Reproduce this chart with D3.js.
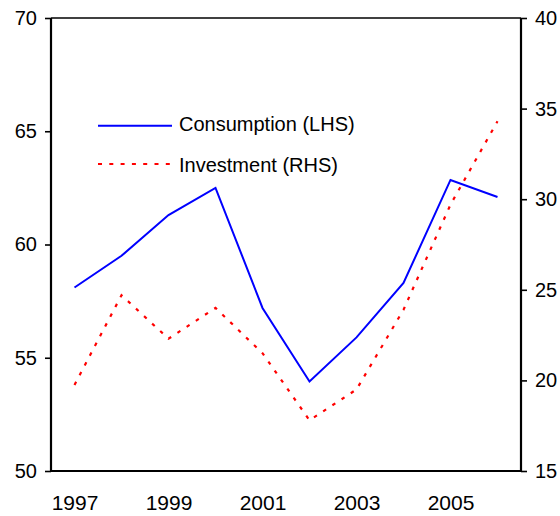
<!DOCTYPE html>
<html>
<head>
<meta charset="utf-8">
<script src="https://cdn.jsdelivr.net/npm/d3@7"></script>
<style>
  html, body { margin: 0; padding: 0; background: #fff; }
  svg { display: block; font-family: "Liberation Sans", Arial, sans-serif; }
</style>
</head>
<body>
<svg id="chart" width="560" height="516"></svg>
<script>
const years = [1997, 1998, 1999, 2000, 2001, 2002, 2003, 2004, 2005, 2006];
const consumption = [58.1, 59.5, 61.3, 62.5, 57.2, 53.95, 55.9, 58.3, 62.85, 62.1];
const investment = [19.75, 24.7, 22.3, 24.0, 21.5, 17.8, 19.5, 23.9, 29.7, 34.3];
const leftTicks = [50, 55, 60, 65, 70];
const rightTicks = [15, 20, 25, 30, 35, 40];
const xTickLabels = [1997, 1999, 2001, 2003, 2005];
const seriesNames = ["Consumption (LHS)", "Investment (RHS)"];

const L = 51, R = 521, T = 18, B = 471;
const svg = d3.select("#chart");

const x = d3.scalePoint().domain(years).range([L, R]).padding(0.5);
const yL = d3.scaleLinear().domain([50, 70]).range([B, T]);
const yR = d3.scaleLinear().domain([15, 40]).range([B, T]);

// frame top & bottom
svg.append("line").attr("x1", L).attr("x2", R).attr("y1", T).attr("y2", T)
  .attr("stroke", "#000").attr("stroke-width", 1.6);
svg.append("line").attr("x1", L).attr("x2", R).attr("y1", B).attr("y2", B)
  .attr("stroke", "#000").attr("stroke-width", 1.8);

// left axis
const gL = svg.append("g").attr("transform", `translate(${L},0)`)
  .call(d3.axisLeft(yL).tickValues(leftTicks).tickSize(6).tickPadding(8).tickFormat(d3.format("d")));
gL.select(".domain").attr("stroke", "#000").attr("stroke-width", 2.2).attr("d", `M0,${T}V${B}`);
gL.selectAll(".tick line").attr("stroke", "#000").attr("stroke-width", 1.6);
gL.selectAll(".tick text").attr("font-size", 20).attr("fill", "#000")
  .attr("font-family", "Liberation Sans, Arial, sans-serif");

// right axis
const gR = svg.append("g").attr("transform", `translate(${R},0)`)
  .call(d3.axisRight(yR).tickValues(rightTicks).tickSize(6).tickPadding(8).tickFormat(d3.format("d")));
gR.select(".domain").attr("stroke", "#000").attr("stroke-width", 2.2).attr("d", `M0,${T}V${B}`);
gR.selectAll(".tick line").attr("stroke", "#000").attr("stroke-width", 1.6);
gR.selectAll(".tick text").attr("font-size", 20).attr("fill", "#000")
  .attr("font-family", "Liberation Sans, Arial, sans-serif");

// bottom axis labels
const gB = svg.append("g").attr("transform", `translate(0,${B})`)
  .call(d3.axisBottom(x).tickValues(xTickLabels).tickSize(0).tickPadding(24).tickFormat(d3.format("d")));
gB.select(".domain").remove();
gB.selectAll(".tick text").attr("font-size", 21).attr("fill", "#000")
  .attr("font-family", "Liberation Sans, Arial, sans-serif");

// lines
const lineC = d3.line().x((d, i) => x(years[i])).y(d => yL(d));
const lineI = d3.line().x((d, i) => x(years[i])).y(d => yR(d));

svg.append("path").datum(investment).attr("d", lineI)
  .attr("fill", "none").attr("stroke", "#FF0000").attr("stroke-width", 2.2)
  .attr("stroke-dasharray", "3.5,7.5");
svg.append("path").datum(consumption).attr("d", lineC)
  .attr("fill", "none").attr("stroke", "#0000FF").attr("stroke-width", 2);

// legend
const leg = svg.append("g");
leg.append("line").attr("x1", 98).attr("x2", 172).attr("y1", 125.7).attr("y2", 125.7)
  .attr("stroke", "#0000FF").attr("stroke-width", 2);
leg.append("text").attr("x", 179).attr("y", 131).attr("font-size", 20).attr("fill", "#000")
  .text(seriesNames[0]);
leg.append("line").attr("x1", 98).attr("x2", 172).attr("y1", 164).attr("y2", 164)
  .attr("stroke", "#FF0000").attr("stroke-width", 2).attr("stroke-dasharray", "4,7.3");
leg.append("text").attr("x", 179).attr("y", 171.5).attr("font-size", 20).attr("fill", "#000")
  .text(seriesNames[1]);
</script>
</body>
</html>
